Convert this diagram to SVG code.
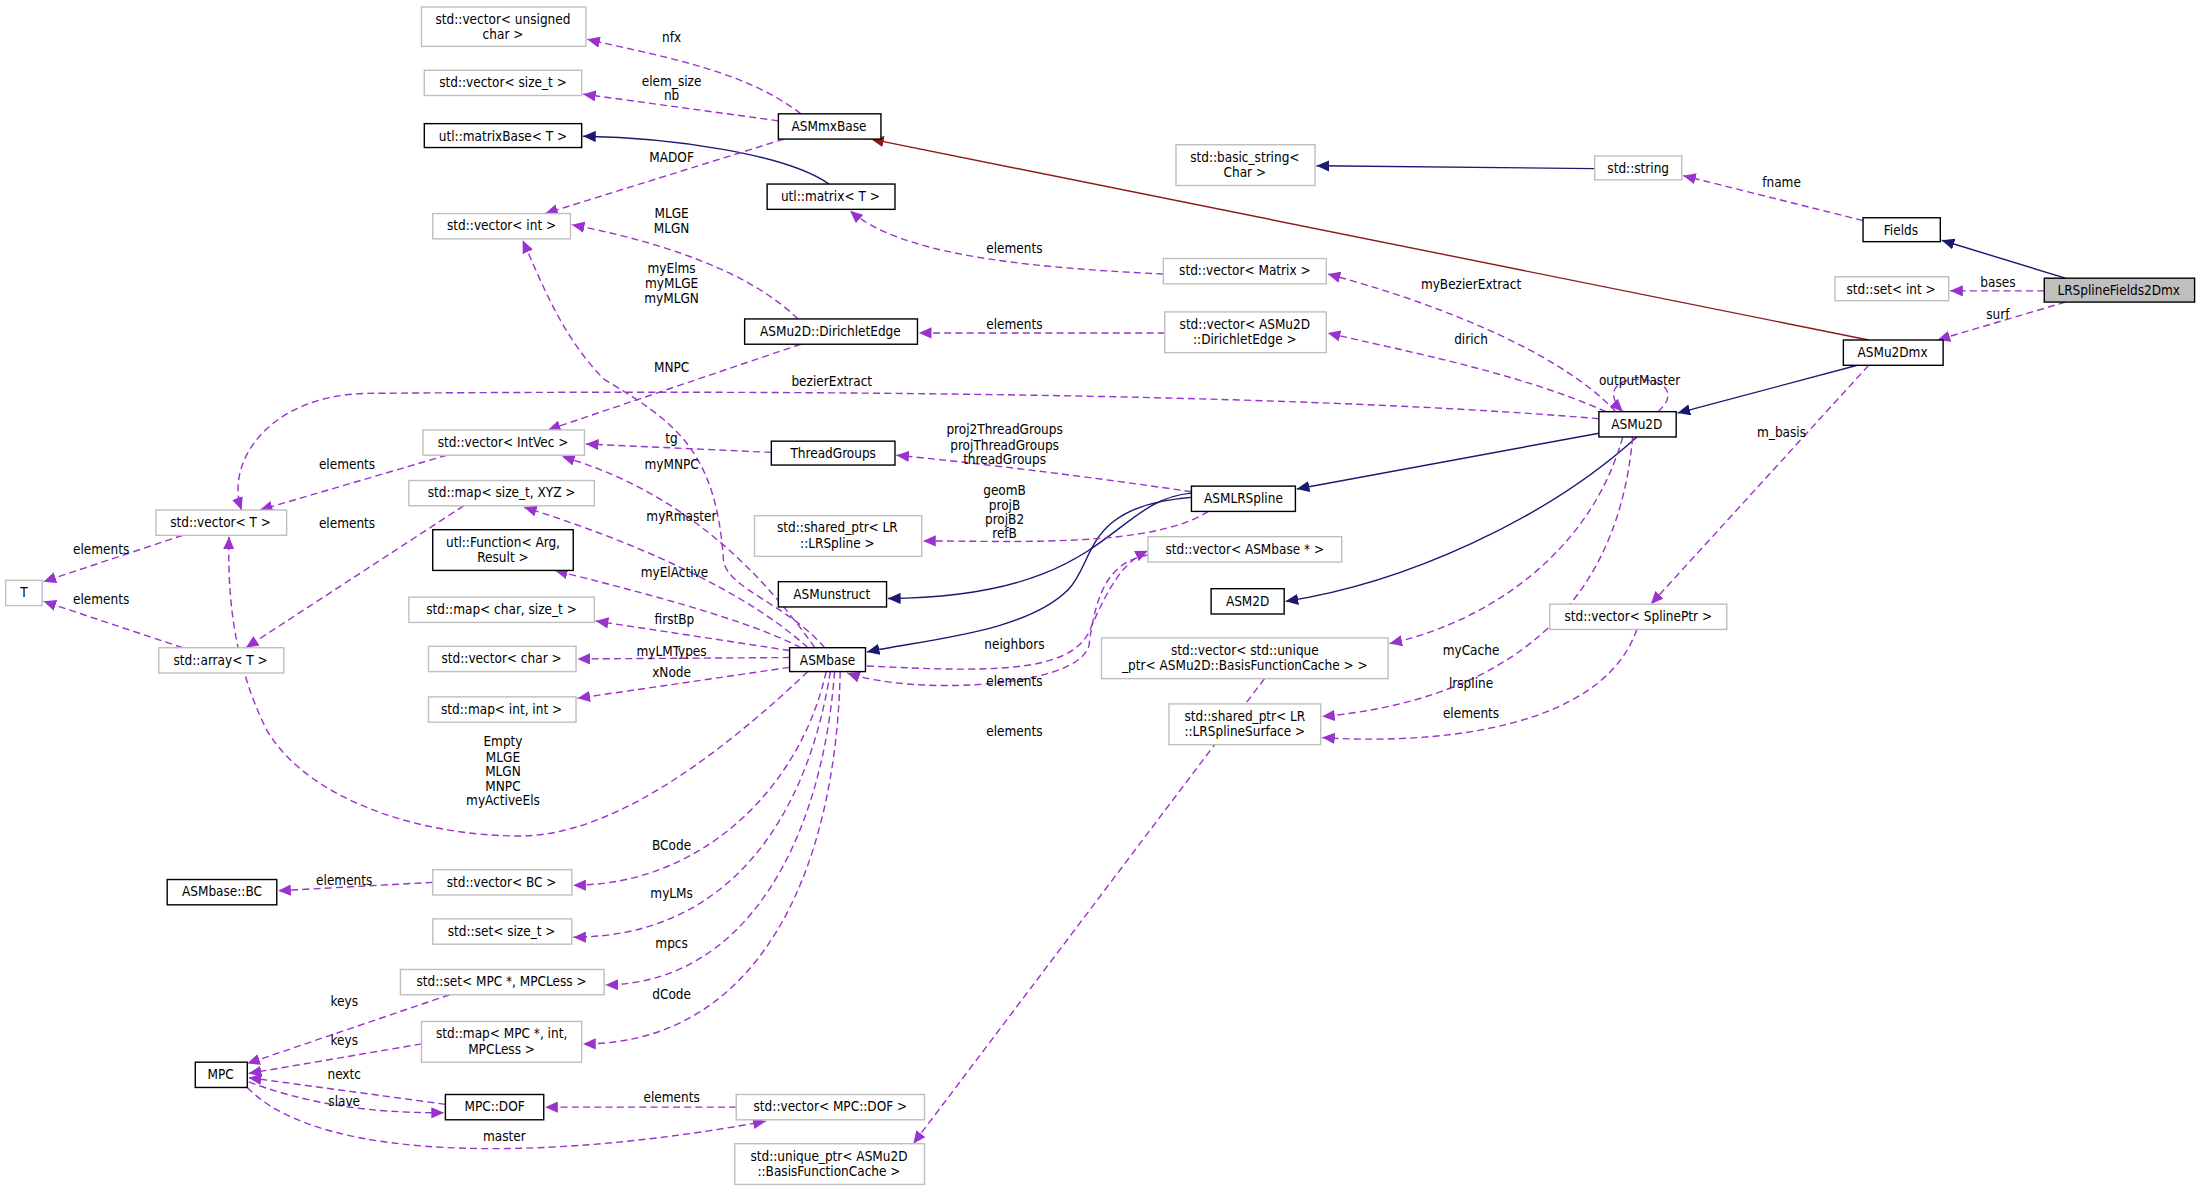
<svg xmlns="http://www.w3.org/2000/svg" width="2203" height="1192" viewBox="0 0 2203 1192">
<style>
text{font-family:"DejaVu Sans Condensed","DejaVu Sans",sans-serif;font-size:9.6px;fill:#000;text-anchor:middle}
.g{fill:#fff;stroke:#bfbfbf;stroke-width:1}
.b{fill:#fff;stroke:#000;stroke-width:1}
.s{fill:#bfbfbf;stroke:#000;stroke-width:1}
.d{fill:none;stroke:#9a32cd;stroke-dasharray:5,3;stroke-width:1}
.n{fill:none;stroke:#191970;stroke-width:1}
.r{fill:none;stroke:#8b1a1a;stroke-width:1}
</style>
<defs>
<marker id="mp" markerUnits="userSpaceOnUse" markerWidth="10" markerHeight="8" refX="9" refY="4" orient="auto"><path d="M0,0L9,4L0,8z" fill="#9a32cd"/></marker>
<marker id="mn" markerUnits="userSpaceOnUse" markerWidth="10" markerHeight="8" refX="9" refY="4" orient="auto"><path d="M0,0L9,4L0,8z" fill="#191970"/></marker>
<marker id="mr" markerUnits="userSpaceOnUse" markerWidth="10" markerHeight="8" refX="9" refY="4" orient="auto"><path d="M0,0L9,4L0,8z" fill="#8b1a1a"/></marker>
</defs>
<rect width="2203" height="1192" fill="#fff"/>
<g transform="scale(1.405)">
<g id="edges">
<path class="n" marker-end="url(#mn)" d="M590,131C560,110 480,98 415,97"/>
<path class="r" marker-end="url(#mr)" d="M1330,242L620,99"/>
<path class="n" marker-end="url(#mn)" d="M1135,120L937,118"/>
<path class="n" marker-end="url(#mn)" d="M1470,198L1382,171"/>
<path class="n" marker-end="url(#mn)" d="M1322,260L1194,294"/>
<path class="n" marker-end="url(#mn)" d="M1140,308L923,348"/>
<path class="n" marker-end="url(#mn)" d="M1165,311C1100,370 1000,415 915,428"/>
<path class="n" marker-end="url(#mn)" d="M848,351C790,356 790,425 632,426"/>
<path class="n" marker-end="url(#mn)" d="M848,354C770,360 780,400 760,420C730,450 660,455 617,464"/>
<path class="d" marker-end="url(#mp)" d="M570,81C530,50 470,40 418,28"/>
<path class="d" marker-end="url(#mp)" d="M554,86L415,67"/>
<path class="d" marker-end="url(#mp)" d="M558,99L388,152"/>
<path class="d" marker-end="url(#mp)" d="M568,227C530,190 460,170 407,160"/>
<path class="d" marker-end="url(#mp)" d="M587,461C560,430 520,420 515,400C510,320 480,300 430,270C400,240 385,200 372,171"/>
<path class="d" marker-end="url(#mp)" d="M828,195C720,190 640,180 605,150"/>
<path class="d" marker-end="url(#mp)" d="M1326,157L1198,125"/>
<path class="d" marker-end="url(#mp)" d="M1455,207L1388,207"/>
<path class="d" marker-end="url(#mp)" d="M1470,215L1379,242"/>
<path class="d" marker-end="url(#mp)" d="M1150,293C1110,250 1020,215 945,195"/>
<path class="d" marker-end="url(#mp)" d="M1143,293C1080,265 1000,250 945,237"/>
<path class="d" marker-end="url(#mp)" d="M829,237L654,237"/>
<path class="d" marker-end="url(#mp)" d="M570,245L390,306"/>
<path class="d" marker-end="url(#mp)" d="M1138,298C900,278 500,278 260,280C190,282 160,330 172,363"/>
<path class="d" marker-end="url(#mp)" d="M1180,293C1195,280 1185,270 1165,270C1150,270 1142,280 1155,293"/>
<path class="d" marker-end="url(#mp)" d="M1330,260L1175,430"/>
<path class="d" marker-end="url(#mp)" d="M549,322L417,316"/>
<path class="d" marker-end="url(#mp)" d="M318,324L185,363"/>
<path class="d" marker-end="url(#mp)" d="M848,350C780,340 700,330 638,324"/>
<path class="d" marker-end="url(#mp)" d="M860,364C820,390 720,385 657,385"/>
<path class="d" marker-end="url(#mp)" d="M130,381L31,414"/>
<path class="d" marker-end="url(#mp)" d="M130,461L31,428"/>
<path class="d" marker-end="url(#mp)" d="M330,360L175,461"/>
<path class="d" marker-end="url(#mp)" d="M580,461C530,390 470,345 400,325"/>
<path class="d" marker-end="url(#mp)" d="M575,461C530,420 450,385 373,361"/>
<path class="d" marker-end="url(#mp)" d="M570,461C530,440 450,420 395,406"/>
<path class="d" marker-end="url(#mp)" d="M562,463L424,442"/>
<path class="d" marker-end="url(#mp)" d="M562,468L411,469"/>
<path class="d" marker-end="url(#mp)" d="M562,475L411,497"/>
<path class="d" marker-end="url(#mp)" d="M575,478C520,530 440,595 370,595C300,595 220,570 190,520C165,470 162,420 163,382"/>
<path class="d" marker-end="url(#mp)" d="M588,478C570,560 500,630 408,630"/>
<path class="d" marker-end="url(#mp)" d="M591,478C575,580 520,667 408,667"/>
<path class="d" marker-end="url(#mp)" d="M594,478C585,600 530,700 431,701"/>
<path class="d" marker-end="url(#mp)" d="M598,478C595,620 540,743 415,743"/>
<path class="d" marker-end="url(#mp)" d="M308,628L198,634"/>
<path class="d" marker-end="url(#mp)" d="M617,474C700,478 760,480 775,450C790,415 800,400 817,392"/>
<path class="d" marker-end="url(#mp)" d="M817,395C790,400 780,420 775,460C765,490 650,495 603,479"/>
<path class="d" marker-end="url(#mp)" d="M1155,311C1130,400 1050,445 989,458"/>
<path class="d" marker-end="url(#mp)" d="M1162,311C1150,450 1050,500 941,510"/>
<path class="d" marker-end="url(#mp)" d="M1165,448C1140,520 1020,530 941,525"/>
<path class="d" marker-end="url(#mp)" d="M900,483L650,814"/>
<path class="d" marker-end="url(#mp)" d="M320,708L176,757"/>
<path class="d" marker-end="url(#mp)" d="M300,743L177,764"/>
<path class="d" marker-end="url(#mp)" d="M317,786L177,767"/>
<path class="d" marker-end="url(#mp)" d="M177,770C230,790 280,792 316,792"/>
<path class="d" marker-end="url(#mp)" d="M176,774C230,830 400,825 545,798"/>
<path class="d" marker-end="url(#mp)" d="M524,788L388,788"/>
</g>
<g id="labels">
<text x="478" y="30">nfx</text>
<text x="478" y="61">elem_size</text><text x="478" y="71">nb</text>
<text x="478" y="115">MADOF</text>
<text x="478" y="155">MLGE</text><text x="478" y="166">MLGN</text>
<text x="478" y="194">myElms</text><text x="478" y="205">myMLGE</text><text x="478" y="216">myMLGN</text>
<text x="722" y="180">elements</text>
<text x="1268" y="133">fname</text>
<text x="1422" y="204">bases</text>
<text x="1422" y="227">surf</text>
<text x="1047" y="206">myBezierExtract</text>
<text x="1047" y="245">dirich</text>
<text x="722" y="234">elements</text>
<text x="478" y="265">MNPC</text>
<text x="592" y="275">bezierExtract</text>
<text x="1167" y="274">outputMaster</text>
<text x="1268" y="311">m_basis</text>
<text x="478" y="315">tg</text>
<text x="247" y="334">elements</text>
<text x="715" y="309">proj2ThreadGroups</text><text x="715" y="320">projThreadGroups</text><text x="715" y="330">threadGroups</text>
<text x="715" y="352">geomB</text><text x="715" y="363">projB</text><text x="715" y="373">projB2</text><text x="715" y="383">refB</text>
<text x="72" y="394">elements</text>
<text x="72" y="430">elements</text>
<text x="247" y="376">elements</text>
<text x="478" y="334">myMNPC</text>
<text x="485" y="371">myRmaster</text>
<text x="480" y="411">myElActive</text>
<text x="480" y="444">firstBp</text>
<text x="478" y="467">myLMTypes</text>
<text x="478" y="482">xNode</text>
<text x="358" y="531">Empty</text><text x="358" y="542">MLGE</text><text x="358" y="552">MLGN</text><text x="358" y="563">MNPC</text><text x="358" y="573">myActiveEls</text>
<text x="478" y="605">BCode</text>
<text x="245" y="630">elements</text>
<text x="478" y="639">myLMs</text>
<text x="478" y="675">mpcs</text>
<text x="478" y="711">dCode</text>
<text x="722" y="462">neighbors</text>
<text x="722" y="488">elements</text>
<text x="1047" y="466">myCache</text>
<text x="1047" y="490">lrspline</text>
<text x="1047" y="511">elements</text>
<text x="722" y="524">elements</text>
<text x="245" y="716">keys</text>
<text x="245" y="744">keys</text>
<text x="245" y="768">nextc</text>
<text x="245" y="787">slave</text>
<text x="359" y="812">master</text>
<text x="478" y="784">elements</text>
</g>
<g id="vuchar"><rect class="g" x="300" y="5" width="117" height="28"/><text x="358" y="17">std::vector&lt; unsigned</text><text x="358" y="28">char &gt;</text></g>
<g id="vsize"><rect class="g" x="302" y="50" width="112" height="18"/><text x="358" y="62">std::vector&lt; size_t &gt;</text></g>
<g id="matrixBase"><rect class="b" x="302" y="88" width="112" height="17"/><text x="358" y="100">utl::matrixBase&lt; T &gt;</text></g>
<g id="ASMmxBase"><rect class="b" x="554" y="81" width="73" height="18"/><text x="590" y="93">ASMmxBase</text></g>
<g id="matrix"><rect class="b" x="546" y="131" width="91" height="18"/><text x="591" y="143">utl::matrix&lt; T &gt;</text></g>
<g id="vint"><rect class="g" x="308" y="152" width="98" height="18"/><text x="357" y="164">std::vector&lt; int &gt;</text></g>
<g id="basic_string"><rect class="g" x="837" y="103" width="99" height="29"/><text x="886" y="115">std::basic_string&lt;</text><text x="886" y="126">Char &gt;</text></g>
<g id="string"><rect class="g" x="1135" y="111" width="62" height="17"/><text x="1166" y="123">std::string</text></g>
<g id="Fields"><rect class="b" x="1326" y="155" width="55" height="17"/><text x="1353" y="167">Fields</text></g>
<g id="LRSplineFields2Dmx"><rect class="s" x="1455" y="198" width="107" height="17"/><text x="1508" y="210">LRSplineFields2Dmx</text></g>
<g id="setint"><rect class="g" x="1306" y="197" width="81" height="17"/><text x="1346" y="209">std::set&lt; int &gt;</text></g>
<g id="vMatrix"><rect class="g" x="828" y="184" width="116" height="18"/><text x="886" y="196">std::vector&lt; Matrix &gt;</text></g>
<g id="DirichletEdge"><rect class="b" x="530" y="227" width="123" height="18"/><text x="591" y="239">ASMu2D::DirichletEdge</text></g>
<g id="vDirichletEdge"><rect class="g" x="829" y="222" width="115" height="29"/><text x="886" y="234">std::vector&lt; ASMu2D</text><text x="886" y="245">::DirichletEdge &gt;</text></g>
<g id="ASMu2Dmx"><rect class="b" x="1312" y="242" width="71" height="18"/><text x="1347" y="254">ASMu2Dmx</text></g>
<g id="ASMu2D"><rect class="b" x="1138" y="293" width="55" height="18"/><text x="1165" y="305">ASMu2D</text></g>
<g id="vIntVec"><rect class="g" x="301" y="306" width="115" height="18"/><text x="358" y="318">std::vector&lt; IntVec &gt;</text></g>
<g id="ThreadGroups"><rect class="b" x="549" y="314" width="88" height="17"/><text x="593" y="326">ThreadGroups</text></g>
<g id="ASMLRSpline"><rect class="b" x="848" y="346" width="74" height="18"/><text x="885" y="358">ASMLRSpline</text></g>
<g id="vT"><rect class="g" x="111" y="363" width="93" height="18"/><text x="157" y="375">std::vector&lt; T &gt;</text></g>
<g id="mapsizeXYZ"><rect class="g" x="291" y="342" width="132" height="18"/><text x="357" y="354">std::map&lt; size_t, XYZ &gt;</text></g>
<g id="sharedLRSpline"><rect class="g" x="537" y="367" width="119" height="29"/><text x="596" y="379">std::shared_ptr&lt; LR</text><text x="596" y="390">::LRSpline &gt;</text></g>
<g id="vASMbase"><rect class="g" x="817" y="382" width="138" height="18"/><text x="886" y="394">std::vector&lt; ASMbase * &gt;</text></g>
<g id="utlFunction"><rect class="b" x="308" y="377" width="100" height="29"/><text x="358" y="389">utl::Function&lt; Arg,</text><text x="358" y="400">Result &gt;</text></g>
<g id="T"><rect class="g" x="4" y="413" width="26" height="18"/><text x="17" y="425">T</text></g>
<g id="ASMunstruct"><rect class="b" x="554" y="414" width="77" height="18"/><text x="592" y="426">ASMunstruct</text></g>
<g id="ASM2D"><rect class="b" x="862" y="419" width="52" height="18"/><text x="888" y="431">ASM2D</text></g>
<g id="vSplinePtr"><rect class="g" x="1103" y="430" width="126" height="18"/><text x="1166" y="442">std::vector&lt; SplinePtr &gt;</text></g>
<g id="mapcharsize"><rect class="g" x="291" y="425" width="132" height="18"/><text x="357" y="437">std::map&lt; char, size_t &gt;</text></g>
<g id="ASMbase"><rect class="b" x="562" y="461" width="54" height="17"/><text x="589" y="473">ASMbase</text></g>
<g id="vchar"><rect class="g" x="305" y="460" width="105" height="18"/><text x="357" y="472">std::vector&lt; char &gt;</text></g>
<g id="array"><rect class="g" x="113" y="461" width="89" height="18"/><text x="157" y="473">std::array&lt; T &gt;</text></g>
<g id="vUnique"><rect class="g" x="784" y="454" width="204" height="29"/><text x="886" y="466">std::vector&lt; std::unique</text><text x="886" y="477">_ptr&lt; ASMu2D::BasisFunctionCache &gt; &gt;</text></g>
<g id="mapintint"><rect class="g" x="305" y="496" width="105" height="18"/><text x="357" y="508">std::map&lt; int, int &gt;</text></g>
<g id="sharedLRSurface"><rect class="g" x="832" y="501" width="108" height="29"/><text x="886" y="513">std::shared_ptr&lt; LR</text><text x="886" y="524">::LRSplineSurface &gt;</text></g>
<g id="vBC"><rect class="g" x="308" y="619" width="99" height="18"/><text x="357" y="631">std::vector&lt; BC &gt;</text></g>
<g id="ASMbaseBC"><rect class="b" x="119" y="626" width="78" height="18"/><text x="158" y="638">ASMbase::BC</text></g>
<g id="setsize"><rect class="g" x="308" y="654" width="99" height="18"/><text x="357" y="666">std::set&lt; size_t &gt;</text></g>
<g id="setMPC"><rect class="g" x="285" y="690" width="145" height="18"/><text x="357" y="702">std::set&lt; MPC *, MPCLess &gt;</text></g>
<g id="mapMPC"><rect class="g" x="300" y="727" width="114" height="29"/><text x="357" y="739">std::map&lt; MPC *, int,</text><text x="357" y="750">MPCLess &gt;</text></g>
<g id="MPC"><rect class="b" x="139" y="756" width="37" height="18"/><text x="157" y="768">MPC</text></g>
<g id="MPCDOF"><rect class="b" x="317" y="779" width="70" height="18"/><text x="352" y="791">MPC::DOF</text></g>
<g id="vMPCDOF"><rect class="g" x="524" y="779" width="134" height="18"/><text x="591" y="791">std::vector&lt; MPC::DOF &gt;</text></g>
<g id="uniqueBFC"><rect class="g" x="523" y="814" width="135" height="29"/><text x="590" y="826">std::unique_ptr&lt; ASMu2D</text><text x="590" y="837">::BasisFunctionCache &gt;</text></g>
</g>
</svg>
